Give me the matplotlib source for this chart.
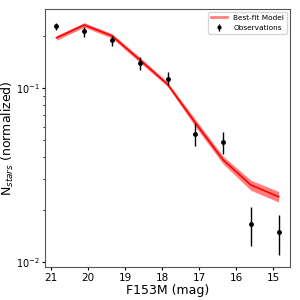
import numpy as np
import matplotlib.pyplot as plt
from matplotlib.lines import Line2D

# magnitudes bins (F153M)
mag = [20.85, 20.1, 19.35, 18.6, 17.85, 17.1, 16.35, 15.6, 14.85]

# observed normalized counts and errors
obs = [0.227, 0.213, 0.189, 0.139, 0.113, 0.0544, 0.049, 0.0166, 0.0149]
obs_lo = [0.013, 0.018, 0.015, 0.012, 0.009, 0.008, 0.0073, 0.0042, 0.004]
obs_hi = [0.010, 0.011, 0.011, 0.012, 0.010, 0.0083, 0.0067, 0.0041, 0.0037]

# best-fit model and its band
model = [0.194, 0.230, 0.199, 0.145, 0.105, 0.063, 0.0386, 0.0277, 0.0237]
model_lo = [0.188, 0.223, 0.193, 0.140, 0.102, 0.060, 0.0366, 0.0258, 0.0221]
model_hi = [0.200, 0.237, 0.205, 0.150, 0.108, 0.066, 0.0405, 0.0295, 0.0254]

fig = plt.figure(figsize=(3, 3), dpi=100)
ax = fig.add_axes([0.15, 0.11, 0.817, 0.86])

ax.fill_between(mag, model_lo, model_hi, color='red', alpha=0.5, lw=0)
ax.plot(mag, model, color='red', lw=1.2)
ax.errorbar(mag, obs, yerr=[obs_lo, obs_hi], fmt='o', color='black',
            ms=2.5, elinewidth=1, capsize=0)

ax.set_yscale('log')
ax.set_xlim(21.16, 14.54)
ax.set_ylim(0.00936, 0.284)
ax.set_xticks([21, 20, 19, 18, 17, 16, 15])
ax.tick_params(which='major', labelsize=7.5, length=2.5, pad=1.5)
ax.tick_params(axis='y', which='major', labelsize=7)
ax.tick_params(which='minor', length=1.5)
for s in ax.spines.values():
    s.set_color('#555555')
ax.set_xlabel('F153M (mag)', fontsize=9, labelpad=1)
ax.set_ylabel('N$_{stars}$ (normalized)', fontsize=9)
ax.yaxis.set_label_coords(-0.118, 0.5)

handles = [Line2D([], [], color='red', alpha=0.5, lw=2),
           ax.errorbar([], [], yerr=[], fmt='o', color='black', ms=2, elinewidth=1)]
ax.legend(handles, ['Best-fit Model', 'Observations'], loc='upper right', fontsize=5.3,
          handlelength=2.2, borderaxespad=0.4)

plt.savefig('out.png', dpi=100)
